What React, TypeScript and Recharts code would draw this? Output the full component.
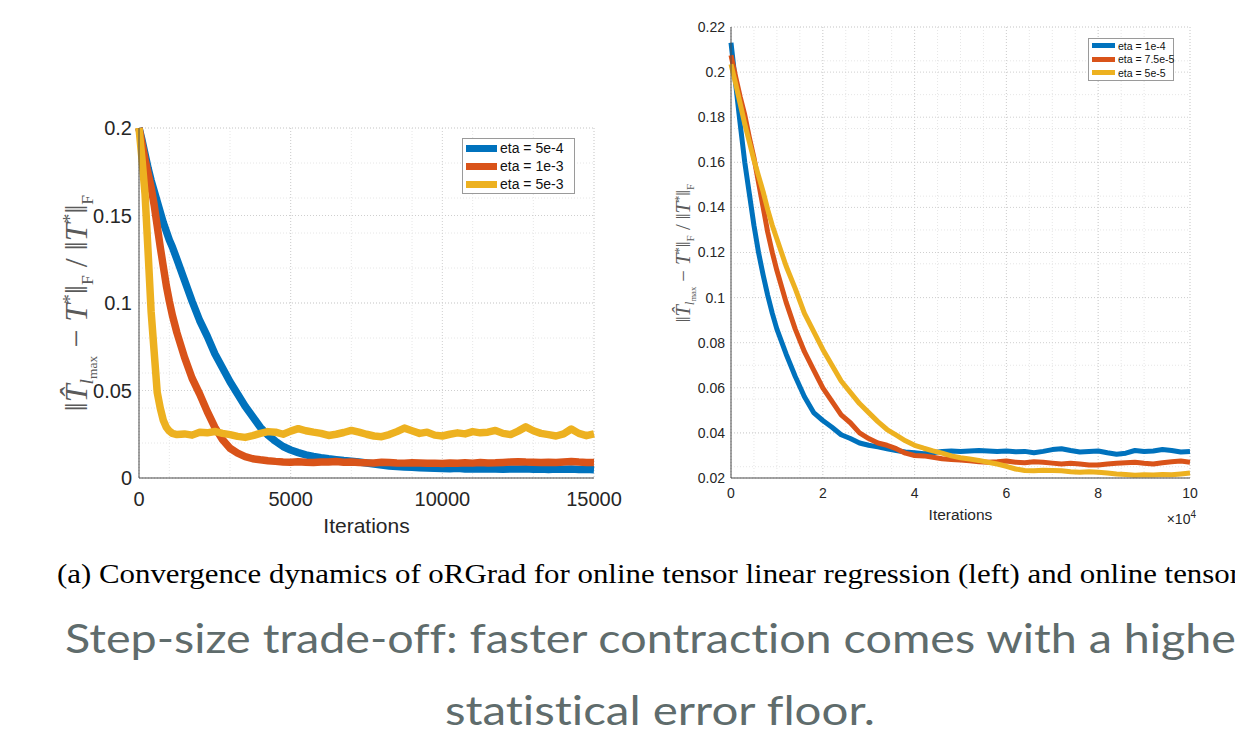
import React from "react";
import { LineChart, Line, XAxis, YAxis, CartesianGrid, Legend, Label } from "recharts";

// ---------------- Data ----------------
const leftIter = [
  0, 100, 200, 300, 400, 500, 600, 700, 800, 900, 1000, 1100,
  1250, 1500, 1750, 2000, 2250, 2500, 2750, 3000, 3250, 3500, 3750, 4000,
  4250, 4500, 4750, 5000, 5250, 5500, 5750, 6000, 6250, 6500, 6750, 7000,
  7250, 7500, 7750, 8000, 8250, 8500, 8750, 9000, 9250, 9500, 9750, 10000,
  10250, 10500, 10750, 11000, 11250, 11500, 11750, 12000, 12250, 12500, 12750, 13000,
  13250, 13500, 13750, 14000, 14250, 14500, 14750, 15000,
];
const leftBlue = [
  0.2, 0.193, 0.185, 0.177, 0.17, 0.164, 0.158, 0.152, 0.146, 0.141, 0.136, 0.132,
  0.125, 0.113, 0.101, 0.09, 0.081, 0.071, 0.063, 0.055, 0.048, 0.041, 0.035, 0.029,
  0.0245, 0.021, 0.018, 0.016, 0.0145, 0.0132, 0.0123, 0.0116, 0.011, 0.0105, 0.01, 0.0096,
  0.0091, 0.0086, 0.008, 0.0074, 0.0069, 0.0066, 0.0063, 0.0061, 0.0058, 0.0057, 0.0055, 0.0054,
  0.0053, 0.0055, 0.0052, 0.0053, 0.0051, 0.0053, 0.0052, 0.005, 0.0052, 0.0051, 0.0053, 0.005,
  0.0051, 0.0049, 0.0052, 0.005, 0.0051, 0.0049, 0.005, 0.0047,
];
const leftRed = [
  0.2, 0.191, 0.182, 0.174, 0.166, 0.156, 0.144, 0.132, 0.121, 0.11, 0.101, 0.093,
  0.083, 0.069, 0.057, 0.048, 0.038, 0.029, 0.022, 0.017, 0.0142, 0.0122, 0.011, 0.0104,
  0.0099, 0.0095, 0.0092, 0.009, 0.0093, 0.009, 0.0088, 0.0092, 0.0091, 0.0094, 0.009, 0.0092,
  0.0089, 0.0087, 0.0086, 0.009, 0.0088, 0.0086, 0.0085, 0.0087, 0.0086, 0.0084, 0.0085, 0.0083,
  0.0086, 0.0084, 0.0087, 0.0085, 0.0088, 0.0086, 0.0087, 0.0089, 0.0091, 0.0093, 0.0091, 0.009,
  0.0088, 0.009, 0.0089, 0.0092, 0.0094, 0.0091, 0.0089, 0.0088,
];
const leftYellow = [
  0.2, 0.182, 0.162, 0.129, 0.095, 0.072, 0.049, 0.04, 0.033, 0.029, 0.0268, 0.0255,
  0.0248, 0.0252, 0.0245, 0.0262, 0.0258, 0.0266, 0.0255, 0.0248, 0.0238, 0.0232, 0.0242, 0.0255,
  0.0265, 0.0262, 0.025, 0.0268, 0.0282, 0.027, 0.0262, 0.0255, 0.0243, 0.025, 0.026, 0.0272,
  0.0262, 0.025, 0.024, 0.0236, 0.0248, 0.0265, 0.0285, 0.027, 0.0255, 0.0262, 0.0245, 0.024,
  0.025, 0.0258, 0.0252, 0.0265, 0.0258, 0.0262, 0.0272, 0.0255, 0.0248, 0.0268, 0.0292, 0.027,
  0.0255, 0.0248, 0.024, 0.0252, 0.028, 0.0255, 0.0242, 0.0252,
];
const leftNames = ["eta = 5e-4", "eta = 1e-3", "eta = 5e-3"];
const leftXTicks = [0, 5000, 10000, 15000];
const leftYTicks = [0, 0.05, 0.1, 0.15, 0.2];
const leftXMinor = [0, 1000, 2000, 3000, 4000, 5000, 6000, 7000, 8000, 9000, 10000, 11000, 12000, 13000, 14000, 15000];
const leftYMinor = [0, 0.01, 0.02, 0.03, 0.04, 0.05, 0.06, 0.07, 0.08, 0.09, 0.1, 0.11, 0.12, 0.13, 0.14, 0.15, 0.16, 0.17, 0.18, 0.19, 0.2];

const rightIter = [
  0, 0.1, 0.2, 0.3, 0.4, 0.5, 0.6, 0.7, 0.8, 0.9, 1.0,
  1.2, 1.4, 1.6, 1.8, 2.0, 2.2, 2.4, 2.6, 2.8, 3.0,
  3.2, 3.4, 3.6, 3.8, 4.0, 4.2, 4.4, 4.6, 4.8, 5.0,
  5.2, 5.4, 5.6, 5.8, 6.0, 6.2, 6.4, 6.6, 6.8, 7.0,
  7.2, 7.4, 7.6, 7.8, 8.0, 8.2, 8.4, 8.6, 8.8, 9.0,
  9.2, 9.4, 9.6, 9.8, 10.0,
];
const rightBlue = [
  0.213, 0.195, 0.177, 0.16, 0.146, 0.132, 0.12, 0.11, 0.101, 0.093, 0.086,
  0.075, 0.065, 0.056, 0.049, 0.0455, 0.0425, 0.0392, 0.0375, 0.0355, 0.0345,
  0.0338, 0.033, 0.0322, 0.0315, 0.0312, 0.0308, 0.0312, 0.0318, 0.032, 0.0318,
  0.032, 0.0322, 0.032, 0.0318, 0.032, 0.0316, 0.0318, 0.0312, 0.0318, 0.0326,
  0.033, 0.0322, 0.0315, 0.0318, 0.032, 0.0312, 0.0305, 0.031, 0.0322, 0.0318,
  0.032, 0.0326, 0.0322, 0.0315, 0.0318,
];
const rightRed = [
  0.2075, 0.198, 0.189, 0.181, 0.171, 0.162, 0.151, 0.14, 0.129, 0.12, 0.112,
  0.098, 0.086, 0.076, 0.068, 0.06, 0.054, 0.048, 0.0445, 0.04, 0.0375,
  0.0355, 0.0345, 0.033, 0.031, 0.03, 0.0298, 0.0292, 0.0285, 0.0282, 0.028,
  0.0276, 0.0272, 0.027, 0.0272, 0.0275, 0.027, 0.0268, 0.0272, 0.027, 0.0266,
  0.0262, 0.0265, 0.0262, 0.0258, 0.0258, 0.0262, 0.0265, 0.0268, 0.027, 0.0265,
  0.0262, 0.0268, 0.0272, 0.0275, 0.027,
];
const rightYellow = [
  0.2035, 0.195, 0.186, 0.177, 0.169, 0.161, 0.154, 0.147, 0.139, 0.132, 0.126,
  0.114, 0.104, 0.093, 0.085, 0.077, 0.07, 0.063, 0.058, 0.053, 0.049,
  0.045, 0.0415, 0.039, 0.0365, 0.0345, 0.0332, 0.032, 0.031, 0.0298, 0.029,
  0.0284, 0.0278, 0.027, 0.0262, 0.0252, 0.024, 0.0233, 0.0232, 0.0234, 0.0233,
  0.0232, 0.0228, 0.0226, 0.0228, 0.0225, 0.0222, 0.0218, 0.0215, 0.0212, 0.0214,
  0.0213, 0.0216, 0.0214, 0.0218, 0.0222,
];
const rightNames = ["eta = 1e-4", "eta = 7.5e-5", "eta = 5e-5"];
const rightXTicks = [0, 2, 4, 6, 8, 10];
const rightYTicks = [0.02, 0.04, 0.06, 0.08, 0.1, 0.12, 0.14, 0.16, 0.18, 0.2, 0.22];
const rightXMinor = [0, 0.5, 1, 1.5, 2, 2.5, 3, 3.5, 4, 4.5, 5, 5.5, 6, 6.5, 7, 7.5, 8, 8.5, 9, 9.5, 10];
const rightYMinor = [
  0.02, 0.025, 0.03, 0.035, 0.04, 0.045, 0.05, 0.055, 0.06, 0.065, 0.07, 0.075, 0.08, 0.085, 0.09, 0.095,
  0.1, 0.105, 0.11, 0.115, 0.12, 0.125, 0.13, 0.135, 0.14, 0.145, 0.15, 0.155, 0.16, 0.165, 0.17, 0.175,
  0.18, 0.185, 0.19, 0.195, 0.2, 0.205, 0.21, 0.215, 0.22,
];

const captionText =
  "(a) Convergence dynamics of oRGrad for online tensor linear regression (left) and online tensor";
const titleLine1 = "Step-size trade-off: faster contraction comes with a higher";
const titleLine2 = "statistical error floor.";

// ---------------- Styling ----------------
const BLUE = "#0072BD";
const RED = "#D95319";
const YELLOW = "#EDB120";
const SANS = "'Liberation Sans', Arial, Helvetica, sans-serif";
const SERIF = "'Liberation Serif', 'Times New Roman', serif";
const TITLE_FONT = "Lato, 'Open Sans', sans-serif";
const TICK_COLOR = "#262626";
const AXIS_COLOR = "#4a4a4a";

const leftRows = leftIter.map((it, i) => ({ iter: it, a: leftBlue[i], b: leftRed[i], c: leftYellow[i] }));
const rightRows = rightIter.map((it, i) => ({ iter: it, a: rightBlue[i], b: rightRed[i], c: rightYellow[i] }));

const fmt = (v: number) => String(parseFloat(v.toFixed(3)));

function NormLabel({ cx, cy, s }: { cx: number; cy: number; s: number }) {
  return (
    <text
      x={cx}
      y={cy}
      transform={`rotate(-90 ${cx} ${cy})`}
      textAnchor="middle"
      fontFamily={SERIF}
      fontSize={s}
      fill="#5a5a5a"
    >
      <tspan>‖</tspan>
      <tspan fontStyle="italic">T&#770;</tspan>
      <tspan fontStyle="italic" fontSize={s * 0.62} dy={s * 0.2}>l</tspan>
      <tspan fontSize={s * 0.42} dy={s * 0.1}>max</tspan>
      <tspan dy={-s * 0.3}>{"  \u2212  "}</tspan>
      <tspan fontStyle="italic">T</tspan>
      <tspan fontSize={s * 0.62} dy={-s * 0.35}>*</tspan>
      <tspan dy={s * 0.35}>‖</tspan>
      <tspan fontSize={s * 0.55} dy={s * 0.2}>F</tspan>
      <tspan dy={-s * 0.2}>{" / ‖"}</tspan>
      <tspan fontStyle="italic">T</tspan>
      <tspan fontSize={s * 0.62} dy={-s * 0.35}>*</tspan>
      <tspan dy={s * 0.35}>‖</tspan>
      <tspan fontSize={s * 0.55} dy={s * 0.2}>F</tspan>
    </text>
  );
}

function LegendBox({ payload, names, fs, barW, barH, rowH, padX }: any) {
  const items = names
    .map((n: string) => (payload || []).find((p: any) => p.value === n))
    .filter(Boolean);
  return (
    <div
      style={{
        border: "1px solid #9a9a9a",
        background: "#fff",
        padding: `0 ${padX}px`,
        boxSizing: "border-box",
        lineHeight: 1,
      }}
    >
      {items.map((p: any) => (
        <div key={p.value} style={{ display: "flex", alignItems: "center", height: rowH }}>
          <div style={{ width: barW, height: barH, background: p.color, marginRight: 3, flex: "none" }} />
          <span style={{ fontFamily: SANS, fontSize: fs, color: "#111", whiteSpace: "nowrap" }}>{p.value}</span>
        </div>
      ))}
    </div>
  );
}

function LeftChart() {
  return (
    <LineChart
      width={640}
      height={548}
      data={leftRows}
      margin={{ top: 128, right: 46, left: 59, bottom: 0 }}
    >
      <CartesianGrid horizontalValues={leftYMinor} verticalValues={leftXMinor} stroke="#e6e6e6" strokeDasharray="1 2" />
      <CartesianGrid horizontalValues={leftYTicks} verticalValues={leftXTicks} stroke="#cfcfcf" strokeDasharray="1 2" />
      <XAxis
        dataKey="iter"
        type="number"
        domain={[0, 15000]}
        ticks={leftXTicks}
        height={70}
        tickLine={false}
        tickSize={0}
        tickMargin={14}
        tick={{ fontFamily: SANS, fontSize: 20, fill: TICK_COLOR }}
        stroke={AXIS_COLOR}
        tickFormatter={(v: number) => String(v)}
      >
        <Label
          content={(props: any) => {
            const vb = props.viewBox || { x: 139, y: 478, width: 455 };
            return (
              <text x={vb.x + vb.width / 2} y={533} textAnchor="middle" fontFamily={SANS} fontSize={21} fill={TICK_COLOR}>
                Iterations
              </text>
            );
          }}
        />
      </XAxis>
      <YAxis
        type="number"
        domain={[0, 0.2]}
        ticks={leftYTicks}
        width={80}
        tickLine={false}
        tickSize={0}
        tickMargin={7}
        tick={{ fontFamily: SANS, fontSize: 20, fill: TICK_COLOR }}
        stroke={AXIS_COLOR}
        tickFormatter={fmt}
      >
        <Label content={() => <NormLabel cx={87} cy={303} s={32} />} />
      </YAxis>
      <Legend
        verticalAlign="middle"
        align="center"
        layout="horizontal"
        wrapperStyle={{ left: 462, top: 138, width: 113, height: "auto" }}
        content={(props: any) => (
          <LegendBox payload={props.payload} names={leftNames} fs={14} barW={31} barH={7} rowH={18} padX={3} />
        )}
      />
      <Line dataKey="a" name={leftNames[0]} stroke={BLUE} strokeWidth={7.5} dot={false} activeDot={false} isAnimationActive={false} strokeLinejoin="round" />
      <Line dataKey="b" name={leftNames[1]} stroke={RED} strokeWidth={7.5} dot={false} activeDot={false} isAnimationActive={false} strokeLinejoin="round" />
      <Line dataKey="c" name={leftNames[2]} stroke={YELLOW} strokeWidth={7.5} dot={false} activeDot={false} isAnimationActive={false} strokeLinejoin="round" />
    </LineChart>
  );
}

function RightChart() {
  return (
    <LineChart
      width={595}
      height={548}
      data={rightRows}
      margin={{ top: 27, right: 45, left: 21, bottom: 0 }}
    >
      <CartesianGrid horizontalValues={rightYMinor} verticalValues={rightXMinor} stroke="#e6e6e6" strokeDasharray="1 2" />
      <CartesianGrid horizontalValues={rightYTicks} verticalValues={rightXTicks} stroke="#cfcfcf" strokeDasharray="1 2" />
      <XAxis
        dataKey="iter"
        type="number"
        domain={[0, 10]}
        ticks={rightXTicks}
        height={70}
        tickLine={false}
        tickSize={0}
        tickMargin={10}
        tick={{ fontFamily: SANS, fontSize: 14, fill: TICK_COLOR }}
        stroke={AXIS_COLOR}
        tickFormatter={(v: number) => String(v)}
      >
        <Label
          content={(props: any) => {
            const vb = props.viewBox || { x: 91, y: 478, width: 459 };
            return (
              <g>
                <text x={vb.x + vb.width / 2} y={520} textAnchor="middle" fontFamily={SANS} fontSize={15.5} fill={TICK_COLOR}>
                  Iterations
                </text>
                <text x={vb.x + vb.width + 6} y={524} textAnchor="end" fontFamily={SANS} fontSize={14} fill={TICK_COLOR}>
                  <tspan>×10</tspan>
                  <tspan fontSize={10} dy={-6}>4</tspan>
                </text>
              </g>
            );
          }}
        />
      </XAxis>
      <YAxis
        type="number"
        domain={[0.02, 0.22]}
        ticks={rightYTicks}
        width={70}
        tickLine={false}
        tickSize={0}
        tickMargin={6}
        tick={{ fontFamily: SANS, fontSize: 14, fill: TICK_COLOR }}
        stroke={AXIS_COLOR}
        tickFormatter={fmt}
      >
        <Label content={() => <NormLabel cx={50} cy={253} s={20.5} />} />
      </YAxis>
      <Legend
        verticalAlign="middle"
        align="center"
        layout="horizontal"
        wrapperStyle={{ left: 448, top: 38, width: 86, height: "auto" }}
        content={(props: any) => (
          <LegendBox payload={props.payload} names={rightNames} fs={10.5} barW={23} barH={5} rowH={13.5} padX={3} />
        )}
      />
      <Line dataKey="a" name={rightNames[0]} stroke={BLUE} strokeWidth={5} dot={false} activeDot={false} isAnimationActive={false} strokeLinejoin="round" />
      <Line dataKey="b" name={rightNames[1]} stroke={RED} strokeWidth={5} dot={false} activeDot={false} isAnimationActive={false} strokeLinejoin="round" />
      <Line dataKey="c" name={rightNames[2]} stroke={YELLOW} strokeWidth={5} dot={false} activeDot={false} isAnimationActive={false} strokeLinejoin="round" />
    </LineChart>
  );
}

export default function App() {
  const titleStyle = { fontVariantLigatures: "none" } as React.CSSProperties;
  return (
    <div
      style={{
        position: "fixed",
        left: 0,
        top: 0,
        width: 1235,
        height: 748,
        background: "#fff",
        overflow: "hidden",
      }}
    >
      <svg width={1235} height={748} style={{ position: "absolute", left: 0, top: 0 }}>
        <text x={57} y={583} fontFamily={SERIF} fontSize={28} fill="#000" textLength={1183} lengthAdjust="spacingAndGlyphs">
          {captionText}
        </text>
        <text x={65} y={653} style={titleStyle} fontFamily={TITLE_FONT} fontSize={41} fill="#5f6c6c" textLength={1188} lengthAdjust="spacingAndGlyphs">
          {titleLine1}
        </text>
        <text x={445} y={725} style={titleStyle} fontFamily={TITLE_FONT} fontSize={41} fill="#5f6c6c" textLength={430} lengthAdjust="spacingAndGlyphs">
          {titleLine2}
        </text>
      </svg>
      <div style={{ position: "absolute", left: 0, top: 0 }}>
        <LeftChart />
      </div>
      <div style={{ position: "absolute", left: 640, top: 0 }}>
        <RightChart />
      </div>
    </div>
  );
}
